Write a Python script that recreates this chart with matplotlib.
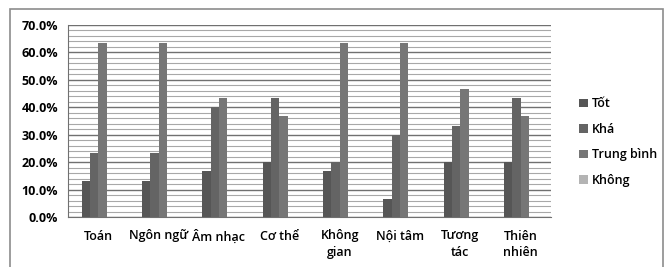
import matplotlib.pyplot as plt
import numpy as np
from matplotlib.ticker import MultipleLocator, PercentFormatter
from matplotlib.patches import Rectangle

plt.rcParams['font.family'] = ['Open Sans', 'DejaVu Sans']

categories = ['Toán', 'Ngôn ngữ', 'Âm nhạc', 'Cơ thể', 'Không\ngian', 'Nội tâm', 'Tương\ntác', 'Thiên\nnhiên']
series_names = ['Tốt', 'Khá', 'Trung bình', 'Không']
tot = [13.3, 13.3, 16.7, 20.0, 16.7, 6.7, 20.0, 20.0]
kha = [23.3, 23.3, 40.0, 43.3, 20.0, 30.0, 33.3, 43.3]
trung_binh = [63.3, 63.3, 43.3, 36.7, 63.3, 63.3, 46.7, 36.7]
khong = [0, 0, 0, 0, 0, 0, 0, 0]
colors = ['#565656', '#646464', '#767676', '#b4b4b4']

fig = plt.figure(figsize=(6.68, 2.67), dpi=100)
fig.patches.append(Rectangle((10 / 668, -0.05), 653 / 668, 1 - 9 / 267 + 0.05,
                             transform=fig.transFigure, fill=False,
                             edgecolor='#8c8c8c', linewidth=1.2))
ax = fig.add_axes([68 / 668, 50 / 267, 483 / 668, 192 / 267])

x = np.arange(len(categories))
w = 0.138
for i, vals in enumerate([tot, kha, trung_binh, khong]):
    ax.bar(x + (i - 1.5) * w, vals, width=w, color=colors[i], label=series_names[i], zorder=3)

ax.set_xlim(-0.5, len(categories) - 0.5)
ax.set_ylim(0, 70)
ax.yaxis.set_major_locator(MultipleLocator(10))
ax.yaxis.set_minor_locator(MultipleLocator(2))
ax.yaxis.set_major_formatter(PercentFormatter(decimals=1))
ax.grid(axis='y', which='major', color='#707070', linewidth=1.0, zorder=0)
ax.grid(axis='y', which='minor', color='#a8a8a8', linewidth=0.8, zorder=0)
ax.tick_params(axis='y', which='both', length=0, labelsize=9, pad=7)
ax.tick_params(axis='x', length=0, labelsize=9, pad=9)
ax.set_xticks(x)
ax.set_xticklabels(categories, fontweight='semibold', linespacing=1.35)
for lab in ax.get_yticklabels():
    lab.set_fontweight('bold')
for s in ['top', 'right']:
    ax.spines[s].set_visible(False)
ax.spines['left'].set_color('#707070')
ax.spines['bottom'].set_color('#707070')

ax.legend(loc='center left', bbox_to_anchor=(1.035, 0.39), frameon=False,
          handlelength=0.7, handleheight=0.7, handletextpad=0.3,
          labelspacing=1.0, prop={'size': 9, 'weight': 'semibold'})

fig.savefig('out.png', dpi=100)
